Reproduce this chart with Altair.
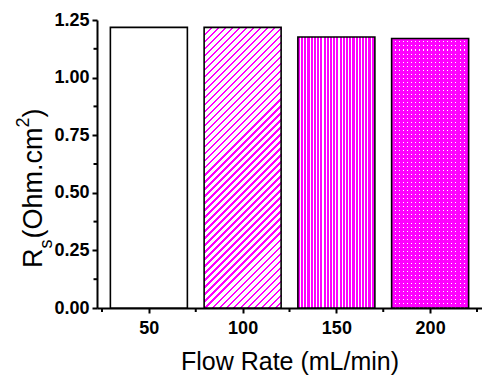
import altair as alt
import pandas as pd

# ---- data ----
flow_rate = [50, 100, 150, 200]
rs_values = [1.218, 1.218, 1.176, 1.170]
y_ticks = [0.0, 0.25, 0.5, 0.75, 1.0, 1.25]
y_minor = [0.125, 0.375, 0.625, 0.875, 1.125]
x_ticks = [50, 100, 150, 200]
x_minor = [25, 75, 125, 175, 225]

W, H = 385, 288
Y_MAX = 1.25
BAR_PX = 77
MAG = "#ff00ff"
CLEAR = "rgba(255,0,255,0)"
FONT = "Liberation Sans"

df = pd.DataFrame({"flow": flow_rate, "rs": rs_values})


def stripes(n, frac, col, bg, x1, y1, x2, y2):
    stops = []
    for i in range(n):
        o = i / n
        m = (i + frac) / n
        e = (i + 1) / n
        stops += [
            {"offset": round(o, 5), "color": col},
            {"offset": round(m, 5), "color": col},
            {"offset": round(m, 5), "color": bg},
            {"offset": round(e, 5), "color": bg},
        ]
    return {"gradient": "linear", "x1": x1, "y1": y1, "x2": x2, "y2": y2, "stops": stops}


def bar_h(v):
    return v * H / Y_MAX


# bar 2: diagonal "/" hatch
h2 = bar_h(rs_values[1])
a = (BAR_PX + h2) / (BAR_PX ** 2 + h2 ** 2)
diag = stripes(int(round((BAR_PX + h2) / 7.0)), 0.32, MAG, "#ffffff", 0, 0, a * BAR_PX, a * h2)
# bar 3: vertical stripes
vert = stripes(24, 0.66, MAG, "#ffffff", 0, 0, 1, 0)
# bar 4: dotted (two crossing stripe layers over white)
h4 = bar_h(rs_values[3])
dots_v = stripes(19, 0.75, MAG, CLEAR, 0, 0, 1, 0)
dots_h = stripes(int(round(h4 / 4)), 0.75, MAG, CLEAR, 0, 0, 0, 1)

x_scale = alt.Scale(domain=[25, 225], nice=False, zero=False)
y_scale = alt.Scale(domain=[0, Y_MAX], nice=False)
x_axis = alt.Axis(values=x_ticks, title="Flow Rate (mL/min)", format="d")
y_axis = alt.Axis(values=y_ticks, title=None, format=".2f")

base = alt.Chart(df)


def bar_layer(idx, fill, stroke=True):
    x_enc = alt.X("flow:Q", scale=x_scale, axis=x_axis)
    y_enc = alt.Y("rs:Q", scale=y_scale, axis=y_axis)
    if stroke:
        mk = base.mark_bar(size=BAR_PX, fill=fill, stroke="#000000", strokeWidth=1.6)
    else:
        mk = base.mark_bar(size=BAR_PX, fill=fill, strokeWidth=0)
    return mk.encode(x=x_enc, y=y_enc).transform_filter(alt.datum.flow == flow_rate[idx])


layers = [
    bar_layer(0, "#ffffff"),
    bar_layer(1, diag),
    bar_layer(2, vert),
    bar_layer(3, "#ffffff", stroke=False),
    bar_layer(3, dots_v, stroke=False),
    bar_layer(3, dots_h),
]

ym = alt.Chart(pd.DataFrame({"v": y_minor})).mark_rule(color="black", strokeWidth=2).encode(
    y=alt.Y("v:Q", scale=y_scale, axis=y_axis), x=alt.value(-3.5), x2=alt.value(0)
)
xm = alt.Chart(pd.DataFrame({"v": x_minor})).mark_rule(color="black", strokeWidth=2).encode(
    x=alt.X("v:Q", scale=x_scale, axis=x_axis), y=alt.value(H), y2=alt.value(H + 4)
)

# y-axis title with subscript / superscript as separate text pieces
title_parts = ["R", "s", "(Ohm.cm", "2", ")"]
tsize = [27, 18, 27, 18, 27]
tx = [-55, -45, -55, -68, -55]
ty = [248, 228.5, 218.5, 107.5, 97.5]
texts = []
for t, s, xx, yy in zip(title_parts, tsize, tx, ty):
    texts.append(
        alt.Chart(pd.DataFrame({"t": [t]})).mark_text(
            angle=270, align="left", baseline="alphabetic", fontSize=s, font=FONT, color="black"
        ).encode(text="t:N", x=alt.value(xx), y=alt.value(yy))
    )

chart = alt.layer(*layers, ym, xm, *texts).properties(
    width=W, height=H,
    padding={"left": 97, "top": 20, "right": 0, "bottom": 69},
    autosize=alt.AutoSizeParams(type="none"),
).configure_view(stroke=None).configure_axis(
    grid=False,
    domainColor="black", domainWidth=2,
    tickColor="black", tickWidth=2, tickSize=5,
    labelFont=FONT, labelFontSize=18, labelFontWeight="bold", labelColor="black",
    titleFont=FONT, titleFontSize=25, titleFontWeight="normal", titleColor="black",
).configure_axisY(labelPadding=3).configure_axisX(labelPadding=6, titlePadding=12)

chart.save("out.html", embed_options={"renderer": "svg", "actions": False})
